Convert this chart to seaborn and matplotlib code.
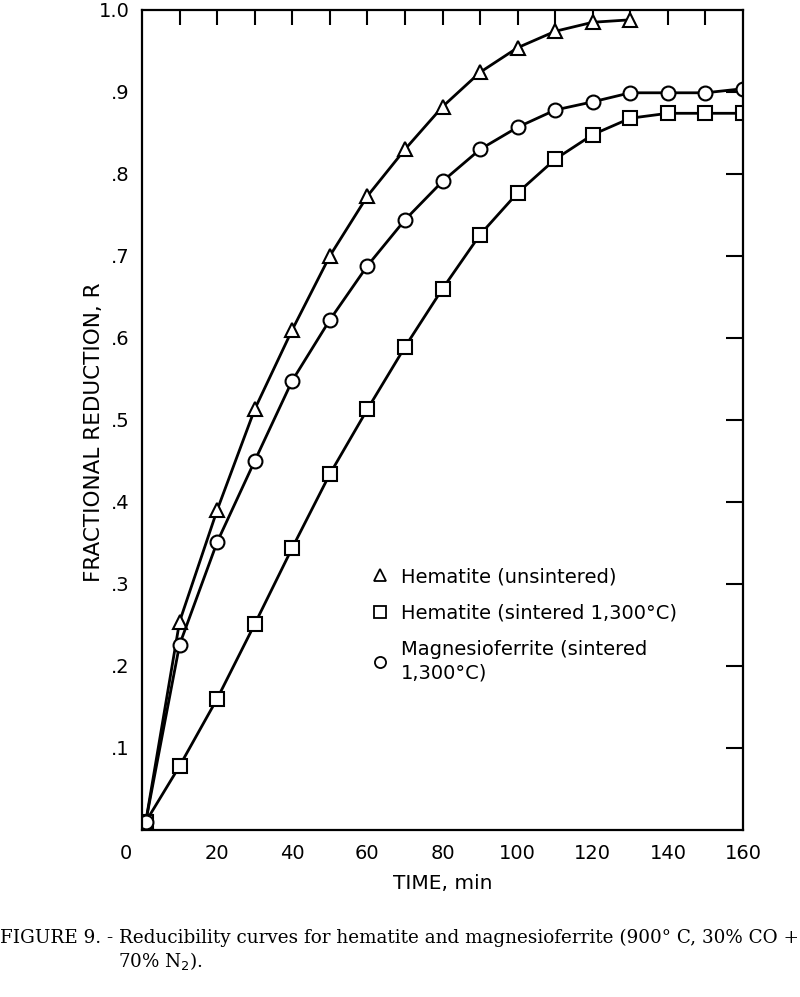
import matplotlib
matplotlib.use("Agg")
import matplotlib.pyplot as plt
import matplotlib.transforms as mtransforms
from matplotlib.lines import Line2D
import seaborn as sns
import pandas as pd

# ---- data ----
time_min = [1, 10, 20, 30, 40, 50, 60, 70, 80, 90, 100, 110, 120, 130, 140, 150, 160]
hem_unsintered = [0.01, 0.254, 0.39, 0.513, 0.61, 0.70, 0.773, 0.83, 0.882, 0.924, 0.954, 0.974, 0.985, 0.988]
hem_sintered = [0.01, 0.078, 0.16, 0.251, 0.344, 0.434, 0.513, 0.589, 0.66, 0.726, 0.777, 0.818, 0.848,
                0.868, 0.874, 0.874, 0.874]
magnesioferrite = [0.01, 0.226, 0.351, 0.45, 0.548, 0.622, 0.688, 0.744, 0.791, 0.83, 0.857, 0.878, 0.888,
                   0.899, 0.899, 0.899, 0.904]
series_names = ["Hematite (unsintered)", "Hematite (sintered 1,300°C)",
                "Magnesioferrite (sintered\n1,300°C)"]
x_ticks = [0, 20, 40, 60, 80, 100, 120, 140, 160]
y_ticks = [0.1, 0.2, 0.3, 0.4, 0.5, 0.6, 0.7, 0.8, 0.9, 1.0]
y_tick_labels = [".1", ".2", ".3", ".4", ".5", ".6", ".7", ".8", ".9", "1.0"]

rows = []
for name, vals in zip(series_names, [hem_unsintered, hem_sintered, magnesioferrite]):
    for t, v in zip(time_min, vals):
        rows.append({"time": t, "R": v, "sample": name})
df = pd.DataFrame(rows)

sns.set_style("white")
plt.rcParams["font.family"] = ["DejaVu Sans"]
for k in ["text.color", "axes.labelcolor", "xtick.color", "ytick.color", "axes.edgecolor"]:
    plt.rcParams[k] = "black"

fig = plt.figure(figsize=(8.0, 9.97), dpi=100)
ax = fig.add_axes([0.1775, 0.1675, 0.75125, 0.8225])

markers = {series_names[0]: "^", series_names[1]: "s", series_names[2]: "o"}
sns.lineplot(data=df, x="time", y="R", style="sample", markers=markers, dashes=False,
             color="black", linewidth=2.0, markersize=10, markerfacecolor="white",
             markeredgecolor="black", markeredgewidth=1.5, legend=False, ax=ax,
             errorbar=None, sort=True)

ax.set_xlim(0, 160)
ax.set_ylim(0, 1.0)
for sp in ax.spines.values():
    sp.set_visible(True)
    sp.set_linewidth(1.6)
    sp.set_color("black")

ax.set_xticks(x_ticks)
ax.set_xticklabels([str(v) for v in x_ticks])
ax.set_xticks(list(range(10, 160, 20)), minor=True)
ax.set_yticks(y_ticks)
ax.set_yticklabels(y_tick_labels)
ax.tick_params(axis="x", which="major", direction="in", length=11, width=1.5, labelsize=14, pad=10)
ax.tick_params(axis="x", which="minor", direction="in", length=6, width=1.5)
ax.tick_params(axis="y", which="major", direction="in", length=12, width=1.5, labelsize=14, pad=9)
ax.grid(False)

# shift the "0" label left as in the original
lbl0 = ax.get_xticklabels()[0]
lbl0.set_transform(lbl0.get_transform() + mtransforms.ScaledTranslation(-16 / 100, 0, fig.dpi_scale_trans))

top = ax.secondary_xaxis("top")
top.set_xticks(list(range(10, 160, 10)))
top.set_xticklabels([])
top.tick_params(direction="in", length=11, width=1.5)
top.spines["top"].set_visible(False)

right = ax.secondary_yaxis("right")
right.set_yticks(y_ticks[:-1])
right.set_yticklabels([])
right.tick_params(direction="in", length=12, width=1.5)
right.spines["right"].set_visible(False)

ax.set_xlabel("TIME, min", fontsize=14.5, labelpad=8)
ax.set_ylabel("FRACTIONAL REDUCTION, R", fontsize=15.5)
ax.yaxis.set_label_coords(-0.063, 0.485)

handles = [Line2D([], [], linestyle="none", marker=markers[n], markersize=8, markerfacecolor="white",
                  markeredgecolor="black", markeredgewidth=1.3) for n in series_names]
leg = ax.legend(handles, series_names, loc="upper left", bbox_to_anchor=(0.37, 0.33), frameon=False,
                fontsize=14, handlelength=0.8, handletextpad=0.7, labelspacing=0.9, borderaxespad=0)
for t in leg.get_texts():
    t.set_linespacing(1.3)

fig.text(0.0, 1 - 938 / 997, "FIGURE 9. - Reducibility curves for hematite and magnesioferrite (900° C, 30% CO +",
         family="DejaVu Serif", fontsize=13.2, va="center", ha="left")
fig.text(118 / 800, 1 - 961 / 997, "70% N$_2$).", family="DejaVu Serif", fontsize=13.2,
         va="center", ha="left")

fig.savefig("out.png", dpi=100)
